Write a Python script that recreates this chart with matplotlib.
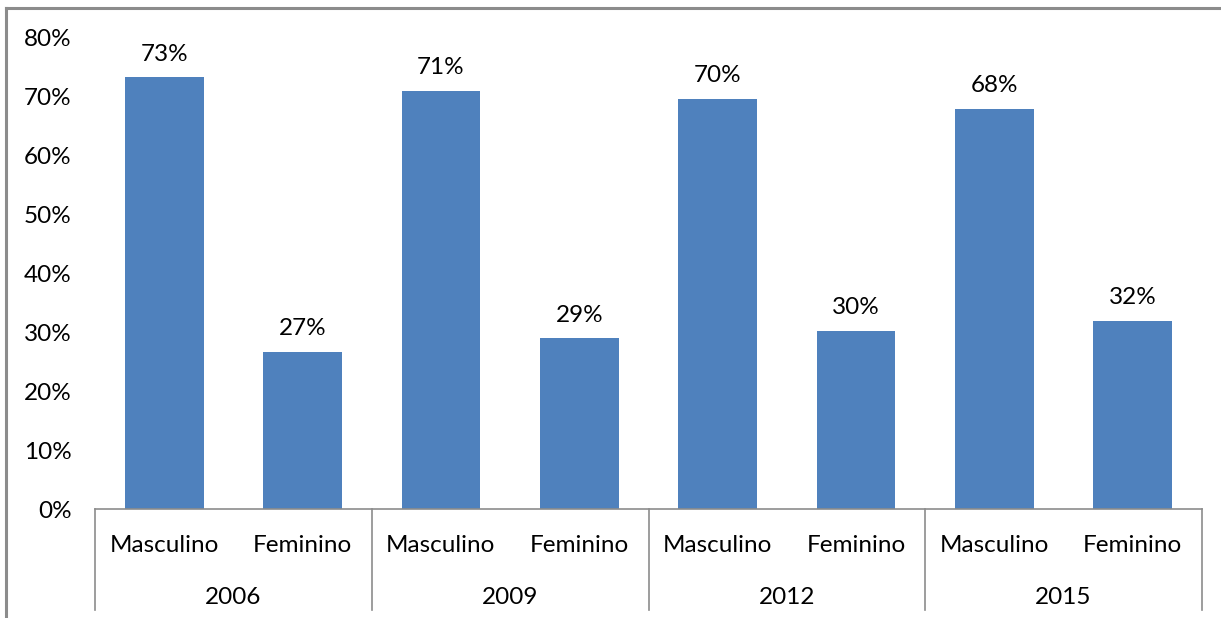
import matplotlib.pyplot as plt
import matplotlib.transforms as mtransforms

# Dados
anos = ["2006", "2009", "2012", "2015"]
sexos = ["Masculino", "Feminino"]
masculino = [0.733, 0.710, 0.697, 0.680]
feminino = [0.267, 0.290, 0.303, 0.320]
rotulos_m = ["73%", "71%", "70%", "68%"]
rotulos_f = ["27%", "29%", "30%", "32%"]

plt.rcParams['font.family'] = ['Lato', 'DejaVu Sans']
fs = 17.5

W, H = 1221, 618
fig = plt.figure(figsize=(W / 100, H / 100), dpi=100)

# moldura cinza (só esquerda e topo visíveis)
moldura = fig.add_axes([6 / W, -0.1, 1.0, 1.1 - 8 / H], zorder=-1)
moldura.set_facecolor("none")
moldura.set_xticks([])
moldura.set_yticks([])
for s in ["right", "bottom"]:
    moldura.spines[s].set_visible(False)
for s in ["left", "top"]:
    moldura.spines[s].set_color("#8c8c8c")
    moldura.spines[s].set_linewidth(2.2)

ax = fig.add_axes([95 / W, 1 - 509 / H, (1202 - 95) / W, (509 - 38) / H])

valores = []
cats = []
rotulos = []
for i in range(len(anos)):
    valores += [masculino[i], feminino[i]]
    cats += sexos
    rotulos += [rotulos_m[i], rotulos_f[i]]
x = list(range(len(valores)))

barras = ax.bar(x, valores, width=0.57, color="#4F81BD")
for b, r in zip(barras, rotulos):
    ax.annotate(r, (b.get_x() + b.get_width() / 2, b.get_height()), xytext=(0, 9),
                textcoords="offset points", ha="center", va="bottom", fontsize=fs)

ax.set_xlim(-0.5, len(valores) - 0.5)
ax.set_ylim(0, 0.8)
ax.set_yticks([i / 10 for i in range(9)])
ax.set_yticklabels([f"{i * 10}%" for i in range(9)], fontsize=fs)
ax.tick_params(axis="y", length=0, pad=17)
ax.set_xticks([])
for s in ["top", "right", "left"]:
    ax.spines[s].set_visible(False)
ax.spines["bottom"].set_color("#8c8c8c")
ax.spines["bottom"].set_linewidth(1.2)

trans = mtransforms.blended_transform_factory(ax.transData, ax.transAxes)
for k in range(len(anos) + 1):
    ax.plot([2 * k - 0.5, 2 * k - 0.5], [0, -101 / 471], transform=trans, color="#8c8c8c",
            linewidth=1.2, clip_on=False)
for xi, c in zip(x, cats):
    ax.text(xi, -36 / 471, c, transform=trans, ha="center", va="center", fontsize=fs)
for k, a in enumerate(anos):
    ax.text(2 * k + 0.5, -88 / 471, a, transform=trans, ha="center", va="center", fontsize=fs)

fig.savefig("out.png", dpi=100)
